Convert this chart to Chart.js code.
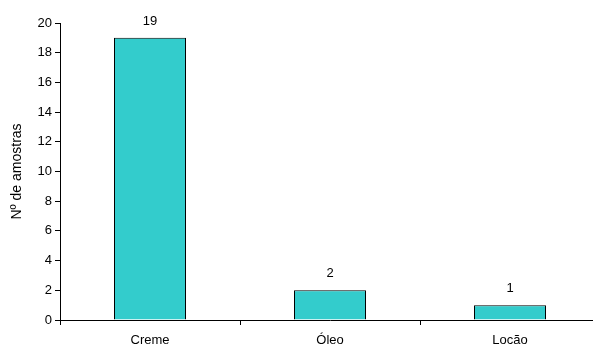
<!DOCTYPE html>
<html>
<head>
<meta charset="utf-8">
<script src="https://cdn.jsdelivr.net/npm/chart.js@4/dist/chart.umd.min.js"></script>
<style>
  html, body { margin: 0; padding: 0; background: #fff; overflow: hidden; }
  #wrap { width: 600px; height: 347px; position: relative; }
</style>
</head>
<body>
<div id="wrap"><canvas id="chart"></canvas></div>
<script>
// ── Data ──
const categories = ['Creme', 'Óleo', 'Locão'];
const counts = [19, 2, 1];
const yTicks = { min: 0, max: 20, step: 2 };

// ── Value labels above bars ──
const valueLabels = {
    id: 'valueLabels',
    afterDatasetsDraw(chart) {
        const ctx = chart.ctx;
        const meta = chart.getDatasetMeta(0);
        ctx.save();
        ctx.font = "13px 'Liberation Sans', Arial, sans-serif";
        ctx.fillStyle = '#000';
        ctx.textAlign = 'center';
        ctx.textBaseline = 'alphabetic';
        meta.data.forEach((bar, i) => {
            ctx.fillText(String(counts[i]), bar.x, bar.y - 13);
        });
        ctx.restore();
    }
};

Chart.defaults.font.family = "'Liberation Sans', Arial, sans-serif";
Chart.defaults.font.size = 13;
Chart.defaults.color = '#000';

new Chart(document.getElementById('chart').getContext('2d'), {
    type: 'bar',
    data: {
        labels: categories,
        datasets: [{
            data: counts,
            backgroundColor: '#33CCCC',
            borderColor: '#000',
            borderWidth: 1,
            categoryPercentage: 1,
            barPercentage: 0.4,
        }]
    },
    options: {
        responsive: true,
        maintainAspectRatio: false,
        animation: false,
        layout: { padding: { top: 23, left: 0, right: 0, bottom: 0 } },
        plugins: {
            legend: { display: false },
            tooltip: { enabled: false },
        },
        scales: {
            x: {
                grid: {
                    offset: true,
                    drawOnChartArea: false,
                    tickLength: 5,
                    color: '#000',
                },
                border: { color: '#000' },
                ticks: { padding: 8 },
                afterFit: s => { s.height = 27; },
            },
            y: {
                min: yTicks.min,
                max: yTicks.max,
                ticks: { stepSize: yTicks.step, padding: 3 },
                grid: {
                    drawOnChartArea: false,
                    tickLength: 5,
                    color: '#000',
                },
                border: { color: '#000' },
                title: {
                    display: true,
                    text: 'Nº de amostras',
                    font: { size: 14 },
                    padding: { top: 9, bottom: 4 },
                },
                afterFit: s => { s.width = 60; },
            }
        }
    },
    plugins: [valueLabels]
});
</script>
</body>
</html>
